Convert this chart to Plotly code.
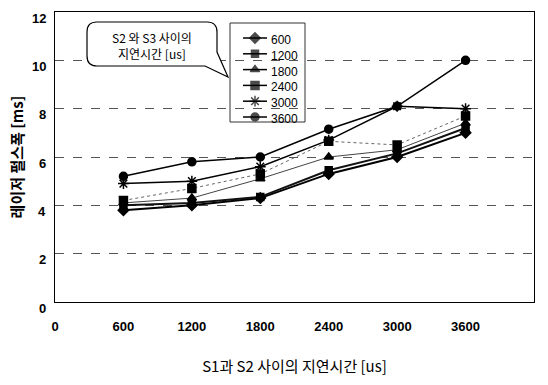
import plotly.graph_objects as go

# S1-S2 delay (us) on the x axis
delays_s1_s2 = [600, 1200, 1800, 2400, 3000, 3600]

# Pulse width (ms) for each S2-S3 delay (us)
series_names = ["600", "1200", "1800", "2400", "3000", "3600"]
width_600 = [3.8, 4.0, 4.3, 5.3, 6.0, 7.0]
width_1200 = [4.0, 4.1, 4.35, 5.45, 6.15, 7.2]
width_1800 = [4.1, 4.3, 5.1, 6.0, 6.3, 7.4]
width_2400 = [4.2, 4.7, 5.3, 6.65, 6.5, 7.7]
width_3000 = [4.9, 5.0, 5.6, 6.7, 8.1, 8.0]
width_3600 = [5.2, 5.8, 6.0, 7.15, 8.1, 10.0]

x_ticks = [0, 600, 1200, 1800, 2400, 3000, 3600, 4200]
y_ticks = [0, 2, 4, 6, 8, 10, 12]

series_values = [width_600, width_1200, width_1800, width_2400, width_3000, width_3600]
styles = [
    dict(symbol="diamond", size=8, lw=2.0, color="#000000", dash="solid"),
    dict(symbol="square", size=7, lw=2.0, color="#111111", dash="solid"),
    dict(symbol="triangle-up", size=8, lw=1.0, color="#444444", dash="solid"),
    dict(symbol="square-x", size=8, lw=1.0, color="#666666", dash="dot"),
    dict(symbol="asterisk-open", size=9, lw=1.5, color="#000000", dash="solid"),
    dict(symbol="circle", size=8, lw=1.5, color="#000000", dash="solid"),
]

PLOT_L, PLOT_R, PLOT_T, PLOT_B = 55, 534, 12, 302

fig = go.Figure()
for name, vals, st in zip(series_names, series_values, styles):
    fig.add_trace(go.Scatter(
        x=delays_s1_s2, y=vals, name=name, mode="lines+markers", showlegend=False,
        line=dict(color=st["color"], width=st["lw"], dash=st["dash"]),
        marker=dict(symbol=st["symbol"], size=st["size"], color="#000000",
                    line=dict(color="#000000", width=1.5)),
    ))

# Compact legend drawn on an overlay axis measured in pixels
leg_x0, leg_x1, leg_y0, leg_y1 = 230, 305, 23, 122
leg_row0, leg_step = 38, 15.8
for i, (name, st) in enumerate(zip(series_names, styles)):
    yy = leg_row0 + i * leg_step
    fig.add_trace(go.Scatter(
        x=[243, 255, 267], y=[yy, yy, yy], xaxis="x2", yaxis="y2",
        mode="lines+markers", showlegend=False, hoverinfo="skip",
        line=dict(color="#000000", width=1.5),
        marker=dict(symbol=st["symbol"], size=[0, st["size"], 0], color="#000000",
                    line=dict(color="#000000", width=1.5)),
    ))
    fig.add_annotation(
        xref="x2", yref="y2", x=269, y=yy + 2, text=name, showarrow=False,
        xanchor="left", yanchor="middle",
        font=dict(family="Arial, Liberation Sans, sans-serif", size=12, color="#000000"),
    )
fig.add_shape(
    type="rect", xref="x2", yref="y2", x0=leg_x0, x1=leg_x1, y0=leg_y0, y1=leg_y1,
    line=dict(color="#333333", width=1), fillcolor="rgba(0,0,0,0)", layer="above",
)

tick_font = dict(family="Arial, Liberation Sans, sans-serif", size=13, color="#000000", weight="bold")
kr_font = "Noto Sans CJK KR, sans-serif"

fig.update_layout(
    width=548, height=385,
    margin=dict(l=PLOT_L, r=548 - PLOT_R, t=PLOT_T, b=385 - PLOT_B),
    paper_bgcolor="white", plot_bgcolor="white",
    showlegend=False,
    xaxis=dict(
        range=[0, 4200], tickvals=x_ticks, ticktext=[str(v) for v in x_ticks],
        showgrid=False, zeroline=False,
        showline=True, linecolor="#000000", linewidth=1, mirror=True,
        ticks="", tickfont=tick_font, ticklabelstandoff=12,
        title=dict(text="S1과 S2 사이의 지연시간 [us]",
                   font=dict(family=kr_font, size=15, color="#000000"), standoff=28),
    ),
    yaxis=dict(
        range=[0, 12], tickvals=y_ticks, showticklabels=False,
        showgrid=True, gridcolor="#555555", gridwidth=1, griddash="dash",
        zeroline=False,
        showline=True, linecolor="#000000", linewidth=1, mirror=True,
        ticks="",
        title=dict(text="레이저 펄스폭 [ms]",
                   font=dict(family=kr_font, size=15, color="#000000", weight="bold"), standoff=26),
    ),
    xaxis2=dict(overlaying="x", range=[PLOT_L, PLOT_R], visible=False, fixedrange=True),
    yaxis2=dict(overlaying="y", range=[PLOT_B, PLOT_T], visible=False, fixedrange=True),
)

# Y tick labels, set slightly below their gridlines
for v in y_ticks:
    fig.add_annotation(
        xref="paper", yref="y", x=0, y=v, text=str(v), showarrow=False,
        xanchor="right", yanchor="middle", xshift=-7, yshift=-6,
        font=tick_font,
    )

# Speech-bubble callout describing the legend (S2-S3 delay)
bub_l, bub_r, bub_t, bub_b, r = 87, 217, 22, 66, 10
tail_a, tail_tip, tail_b = (205, bub_b), (228, 77), (bub_r, 52)
bubble_path = (
    f"M {bub_l + r} {bub_t} L {bub_r - r} {bub_t} Q {bub_r} {bub_t} {bub_r} {bub_t + r} "
    f"L {tail_b[0]} {tail_b[1]} L {tail_tip[0]} {tail_tip[1]} L {tail_a[0]} {tail_a[1]} "
    f"L {bub_l + r} {bub_b} Q {bub_l} {bub_b} {bub_l} {bub_b - r} "
    f"L {bub_l} {bub_t + r} Q {bub_l} {bub_t} {bub_l + r} {bub_t} Z"
)
fig.add_shape(
    type="path", xref="x2", yref="y2", path=bubble_path,
    line=dict(color="#000000", width=1.2), fillcolor="white", layer="above",
)
fig.add_annotation(
    xref="x2", yref="y2", x=152, y=45, showarrow=False,
    text="S2 와 S3 사이의<br>지연시간 [us]", align="center",
    font=dict(family=kr_font, size=12, color="#000000"),
)

fig.write_html("out.html")
